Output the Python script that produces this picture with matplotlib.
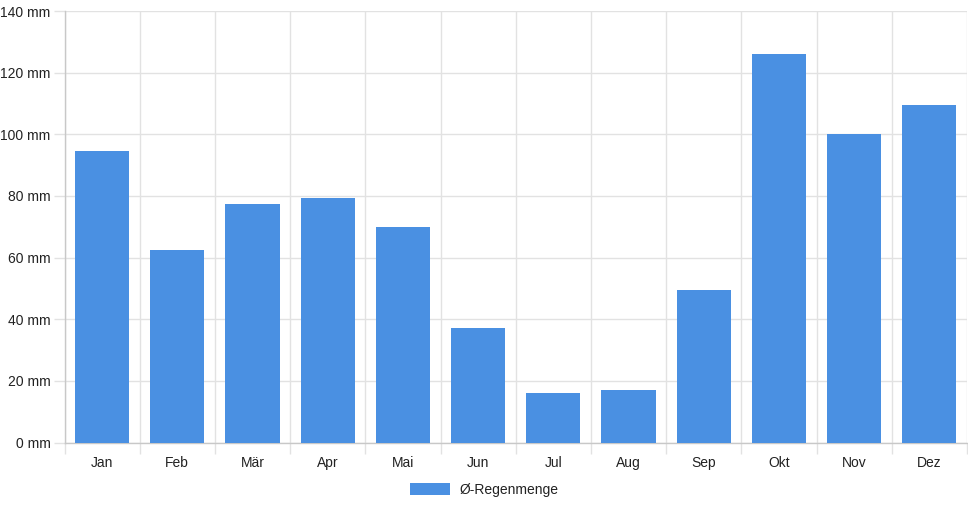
import matplotlib
matplotlib.use("Agg")
import matplotlib.pyplot as plt
import numpy as np
from matplotlib.ticker import FixedLocator, FuncFormatter

months = ["Jan", "Feb", "Mär", "Apr", "Mai", "Jun", "Jul", "Aug", "Sep", "Okt", "Nov", "Dez"]
rain_mm = [94.5, 62.4, 77.3, 79.2, 69.8, 37.0, 16.2, 16.9, 49.4, 126.0, 100.0, 109.5]
series_label = "Ø-Regenmenge"
y_ticks = [0, 20, 40, 60, 80, 100, 120, 140]

plt.rcParams['font.family'] = ['Liberation Sans', 'DejaVu Sans']
W, H = 968, 508
fig = plt.figure(figsize=(W / 100, H / 100), dpi=100)
ax = fig.add_axes([64.5 / W, 1 - 442.5 / H, (967 - 64.5) / W, (442.5 - 11) / H])

bar_color = "#4a90e2"
grid_color = "#e2e2e2"
axis_color = "#c8c8c8"
fs = 10

x = np.arange(len(months))
ax.bar(x, rain_mm, width=0.72, color=bar_color, label=series_label, zorder=3)

ax.set_xlim(-0.5, len(months) - 0.5)
ax.set_ylim(0, 140)

ax.set_xticks(x)
ax.set_xticklabels(months)
ax.xaxis.set_minor_locator(FixedLocator(np.arange(-0.5, len(months) + 0.5, 1)))
ax.tick_params(axis='x', which='major', length=0, pad=10, labelsize=fs, colors='#222222')
ax.tick_params(axis='x', which='minor', length=8, color=grid_color, width=1)
ax.grid(axis='x', which='minor', color=grid_color, linewidth=1, zorder=0)

ax.set_yticks(y_ticks)
ax.yaxis.set_major_formatter(FuncFormatter(lambda v, p: f"{int(v)} mm"))
ax.tick_params(axis='y', length=8, color=grid_color, width=1, pad=2, labelsize=fs, labelcolor='#222222')
ax.grid(axis='y', which='major', color=grid_color, linewidth=1, zorder=0)

for s in ['top', 'right']:
    ax.spines[s].set_visible(False)
for s in ['left', 'bottom']:
    ax.spines[s].set_color(axis_color)
    ax.spines[s].set_linewidth(1)

leg = fig.legend(loc='center', bbox_to_anchor=(484 / W, 1 - 490 / H), frameon=False,
                 fontsize=fs, handlelength=2.9, handleheight=1.0, handletextpad=0.65,
                 labelcolor='#222222')

fig.savefig("out.png", dpi=100)
